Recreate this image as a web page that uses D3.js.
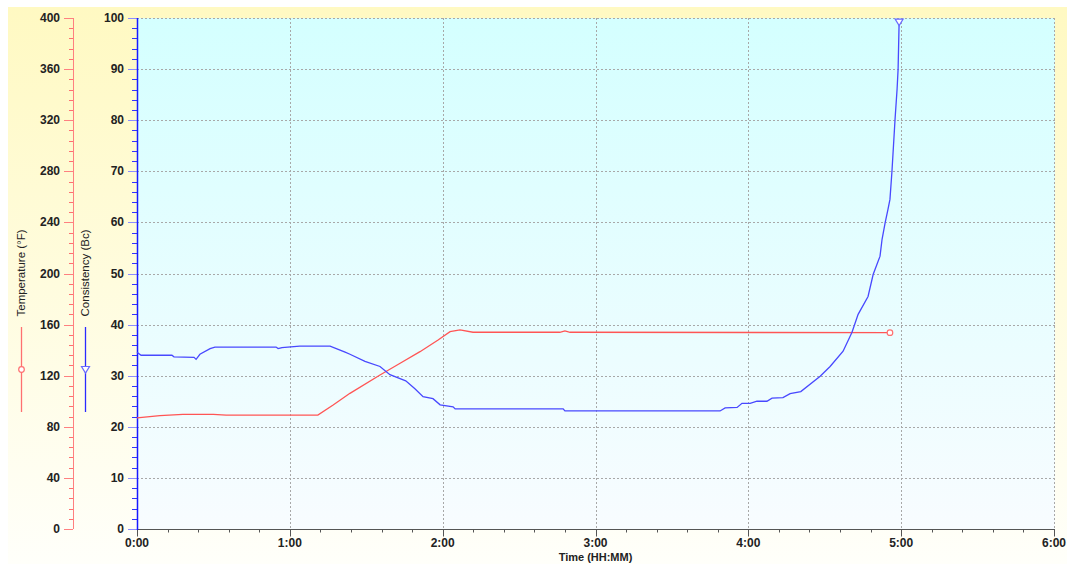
<!DOCTYPE html>
<html>
<head>
<meta charset="utf-8">
<script src="https://cdn.jsdelivr.net/npm/d3@7"></script>
<style>
  body { margin: 0; background: #fff; }
  svg text { font-family: "Liberation Sans", Arial, sans-serif; }
</style>
</head>
<body>
<div id="chart"></div>
<script>
// ### data (time in minutes)
const tempTime = [0, 9, 18, 30, 35, 71, 77, 83.6, 95.4, 103.3, 111.1, 118.2, 122.9, 126.8, 131.9, 166, 168, 170, 295.6];
const tempF    = [87, 88.7, 89.8, 89.8, 89.2, 89.2, 97, 106.2, 120.5, 129.7, 138.8, 147.9, 154.5, 155.8, 154, 154, 155, 154, 153.7];

const consTime = [0, 1.6, 13.7, 14.5, 22.4, 23.2, 24.7, 28.7, 30.6, 54.6, 55.4, 56.9, 63.9, 75.8, 81.7, 83.6, 89.5, 95.4, 99.3, 105.5, 109, 112.3, 116.2, 119, 124.1, 124.9, 167.3, 168, 228.9, 230.9, 235.6, 237.5, 240.7, 243.4, 247.3, 249.3, 253.6, 256.4, 260.6, 268.2, 272.1, 277.2, 280.7, 283.1, 287, 289, 291.7, 292.5, 293.7, 294.8, 295.6, 296.4, 297.6, 298.4, 298.8, 299.2];
const consBc   = [34.6, 34, 34, 33.7, 33.6, 33.2, 34.2, 35.3, 35.6, 35.6, 35.3, 35.5, 35.8, 35.8, 34.6, 34.2, 32.8, 31.8, 30.2, 29.0, 27.5, 25.9, 25.5, 24.3, 23.9, 23.5, 23.5, 23.1, 23.1, 23.7, 23.8, 24.6, 24.6, 25, 25, 25.6, 25.7, 26.5, 26.9, 29.9, 31.8, 34.8, 38.5, 42, 45.5, 49.8, 53.4, 56.7, 59.9, 62.5, 64.5, 70.1, 80.2, 86.1, 90, 99.2];

const hourTicks = [0, 60, 120, 180, 240, 300, 360];
const hourLabels = ["0:00", "1:00", "2:00", "3:00", "4:00", "5:00", "6:00"];

const W = 1072, H = 564;
const pLeft = 137, pRight = 1054, pTop = 18, pBottom = 529;
const tempAxisX = 73;

const x = d3.scaleLinear().domain([0, 360]).range([pLeft, pRight]);
const yC = d3.scaleLinear().domain([0, 100]).range([pBottom, pTop]);
const yT = d3.scaleLinear().domain([0, 400]).range([pBottom, pTop]);

const svg = d3.select("#chart").append("svg")
  .attr("width", W).attr("height", H);

const defs = svg.append("defs");
const gFrame = defs.append("linearGradient").attr("id", "frame")
  .attr("x1", 0).attr("y1", 0).attr("x2", 0).attr("y2", 1);
gFrame.append("stop").attr("offset", "0%").attr("stop-color", "#fff9c2");
gFrame.append("stop").attr("offset", "100%").attr("stop-color", "#fffffa");
const gPlot = defs.append("linearGradient").attr("id", "plotbg")
  .attr("x1", 0).attr("y1", 0).attr("x2", 0).attr("y2", 1);
gPlot.append("stop").attr("offset", "0%").attr("stop-color", "#d4ffff");
gPlot.append("stop").attr("offset", "100%").attr("stop-color", "#f8fcff");

// frame + plot background
svg.append("rect").attr("x", 8).attr("y", 7).attr("width", 1059).attr("height", H - 7)
  .attr("fill", "url(#frame)");
svg.append("rect").attr("x", pLeft).attr("y", pTop).attr("width", pRight - pLeft + 1).attr("height", pBottom - pTop)
  .attr("fill", "url(#plotbg)");

// grid
const grid = svg.append("g").attr("stroke", "#a8a8a8").attr("stroke-dasharray", "2,2").attr("stroke-width", 1);
grid.selectAll("line.h").data(d3.range(10, 101, 10)).join("line")
  .attr("x1", pLeft).attr("x2", pRight + 1)
  .attr("y1", d => Math.round(yC(d)) + 0.5).attr("y2", d => Math.round(yC(d)) + 0.5);
grid.selectAll("line.v").data(hourTicks.slice(1)).join("line")
  .attr("y1", pTop).attr("y2", pBottom)
  .attr("x1", d => Math.round(x(d)) + 0.5).attr("x2", d => Math.round(x(d)) + 0.5);

// x axis
const xAxis = svg.append("g").attr("transform", `translate(0,${pBottom + 0.5})`);
xAxis.append("line").attr("x1", pLeft).attr("x2", pRight + 1).attr("stroke", "#555");
xAxis.selectAll("line.minor").data(d3.range(0, 361, 12).filter(d => d % 60)).join("line")
  .attr("class", "minor")
  .attr("x1", d => Math.round(x(d)) + 0.5).attr("x2", d => Math.round(x(d)) + 0.5)
  .attr("y1", 0).attr("y2", 3).attr("stroke", "#555");
xAxis.selectAll("line.major").data(hourTicks).join("line")
  .attr("class", "major")
  .attr("x1", d => Math.round(x(d)) + 0.5).attr("x2", d => Math.round(x(d)) + 0.5)
  .attr("y1", 0).attr("y2", 7).attr("stroke", "#555");
xAxis.selectAll("text").data(hourTicks).join("text")
  .attr("x", d => x(d)).attr("y", 17)
  .attr("text-anchor", "middle").attr("font-size", 12).attr("font-weight", "bold").attr("fill", "#222")
  .text((d, i) => hourLabels[i]);
svg.append("text").attr("x", x(180)).attr("y", 561)
  .attr("text-anchor", "middle").attr("font-size", 11).attr("font-weight", "bold").attr("fill", "#222")
  .text("Time (HH:MM)");

// consistency axis
const cAxis = svg.append("g");
cAxis.selectAll("line.minor").data(d3.range(0, 101, 2).filter(d => d % 10)).join("line")
  .attr("class", "minor")
  .attr("x1", pLeft - 5).attr("x2", pLeft)
  .attr("y1", d => Math.round(yC(d)) + 0.5).attr("y2", d => Math.round(yC(d)) + 0.5)
  .attr("stroke", "#3333ff");
cAxis.selectAll("line.major").data(d3.range(0, 101, 10)).join("line")
  .attr("class", "major")
  .attr("x1", pLeft - 9).attr("x2", pLeft)
  .attr("y1", d => Math.round(yC(d)) + 0.5).attr("y2", d => Math.round(yC(d)) + 0.5)
  .attr("stroke", "#8c8cff");
cAxis.append("line").attr("x1", pLeft + 0.5).attr("x2", pLeft + 0.5).attr("y1", pTop).attr("y2", pBottom + 1)
  .attr("stroke", "#1a1aff").attr("stroke-width", 1.5);
cAxis.selectAll("text").data(d3.range(0, 101, 10)).join("text")
  .attr("x", pLeft - 13).attr("y", d => yC(d) + 4)
  .attr("text-anchor", "end").attr("font-size", 12).attr("font-weight", "bold").attr("fill", "#222")
  .text(d => d);

// temperature axis
const tAxis = svg.append("g");
tAxis.append("line").attr("x1", tempAxisX + 0.5).attr("x2", tempAxisX + 0.5).attr("y1", pTop).attr("y2", pBottom)
  .attr("stroke", "#ff8080");
tAxis.selectAll("line.minor").data(d3.range(0, 401, 8).filter(d => d % 40)).join("line")
  .attr("class", "minor")
  .attr("x1", tempAxisX - 4).attr("x2", tempAxisX)
  .attr("y1", d => Math.round(yT(d)) + 0.5).attr("y2", d => Math.round(yT(d)) + 0.5)
  .attr("stroke", "#ff7070");
tAxis.selectAll("line.major").data(d3.range(0, 401, 40)).join("line")
  .attr("class", "major")
  .attr("x1", tempAxisX - 9).attr("x2", tempAxisX)
  .attr("y1", d => Math.round(yT(d)) + 0.5).attr("y2", d => Math.round(yT(d)) + 0.5)
  .attr("stroke", "#ff8080");
tAxis.selectAll("text").data(d3.range(0, 401, 40)).join("text")
  .attr("x", tempAxisX - 13).attr("y", d => yT(d) + 4)
  .attr("text-anchor", "end").attr("font-size", 12).attr("font-weight", "bold").attr("fill", "#222")
  .text(d => d);

// legend
function legend(cx, label, color, marker) {
  svg.append("text").attr("transform", `translate(${cx + 4},273) rotate(-90)`)
    .attr("text-anchor", "middle").attr("font-size", 11.5).attr("fill", "#222")
    .text(label);
  svg.append("line").attr("x1", cx + 0.5).attr("x2", cx + 0.5).attr("y1", 327).attr("y2", 412)
    .attr("stroke", color).attr("stroke-width", 1.3);
  marker(cx + 0.5, 369.5);
}
const circleMark = (cx, cy) => svg.append("circle").attr("cx", cx).attr("cy", cy).attr("r", 2.8)
  .attr("fill", "#fff").attr("stroke", "#ff7070").attr("stroke-width", 1.2);
const triMark = (cx, cy) => svg.append("path")
  .attr("d", `M${cx - 4},${cy - 3}L${cx + 4},${cy - 3}L${cx},${cy + 3.5}Z`)
  .attr("fill", "#fff").attr("stroke", "#6a6aff").attr("stroke-width", 1.2);
legend(21, "Temperature (°F)", "#ff7070", circleMark);
legend(85, "Consistency (Bc)", "#2a2aff", triMark);

// series
const tempLine = d3.line().x(d => x(d[0])).y(d => yT(d[1]));
const consLine = d3.line().x(d => x(d[0])).y(d => yC(d[1]));

svg.append("path").datum(d3.zip(tempTime, tempF))
  .attr("d", tempLine).attr("fill", "none").attr("stroke", "#ff5555").attr("stroke-width", 1.3);
svg.append("path").datum(d3.zip(consTime, consBc))
  .attr("d", consLine).attr("fill", "none").attr("stroke", "#4848ff").attr("stroke-width", 1.3);

// end markers
circleMark(x(tempTime[tempTime.length - 1]), yT(tempF[tempF.length - 1]));
triMark(x(consTime[consTime.length - 1]), yC(consBc[consBc.length - 1]));
</script>
</body>
</html>
